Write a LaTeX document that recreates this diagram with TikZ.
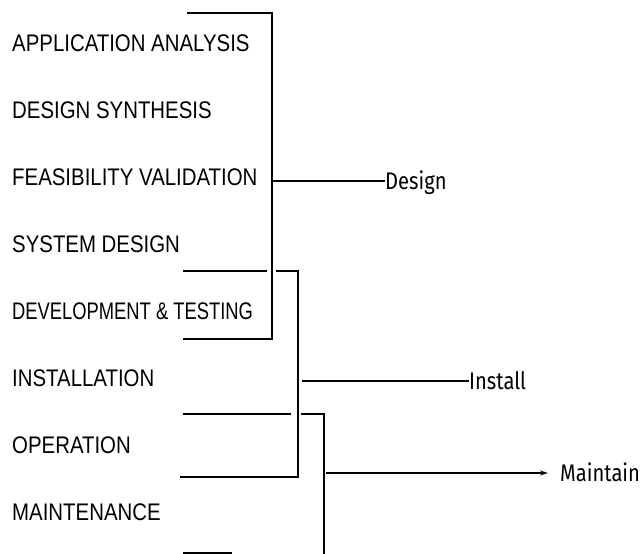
\documentclass[tikz,border=0pt]{standalone}
\usepackage{fontspec}
\newfontfamily\capfont[FakeStretch=0.85]{Liberation Sans}
\newfontfamily\tagfont[FakeStretch=0.84]{Fira Sans}
\usetikzlibrary{arrows.meta}

\begin{document}
\begin{tikzpicture}[x=1pt, y=-1pt,
    item/.style={anchor=west, inner sep=0pt, font=\capfont\fontsize{24}{28}\selectfont},
    tag/.style={anchor=base west, inner sep=0pt, font=\tagfont\fontsize{24}{28}\selectfont},
    bar/.style={line width=1.6pt},
    stem/.style={line width=1.3pt}]
    \useasboundingbox (0,0) rectangle (641,554);
    % Phase list, one row every 67px (last field squeezes the wide one)
    \foreach \name/\txt/\sq [count=\i from 0] in {app/APPLICATION ANALYSIS/1, syn/DESIGN SYNTHESIS/1,
        feas/FEASIBILITY VALIDATION/1, sys/SYSTEM DESIGN/1, dev/DEVELOPMENT \& TESTING/0.9,
        inst/INSTALLATION/1, oper/OPERATION/1, maint/MAINTENANCE/1} {
      \node[item] (\name) at (12, 43+67*\i) {\scalebox{\sq}[1]{\txt}};
    }
    % Design bracket: first five phases
    \coordinate (d0) at (187, 13);
    \coordinate (d1) at (272, 13);
    \coordinate (d2) at (272, 339);
    \coordinate (d3) at (183, 339);
    \coordinate (dm) at (273, 181);
    \draw[bar] (d0) -- (d1) -- (d2) -- (d3);
    \node[tag] (design) at (385, 189) {Design};
    \draw[stem] (dm) -- (dm -| design.west);
    % Install bracket: top line broken where it crosses the design bracket
    \coordinate (i0) at (183, 271);
    \coordinate (i1) at (267, 271);
    \coordinate (i2) at (276, 271);
    \coordinate (i3) at (298, 271);
    \coordinate (i4) at (298, 477);
    \coordinate (i5) at (180, 477);
    \coordinate (im) at (302, 381);
    \draw[bar] (i0) -- (i1);
    \draw[bar] (i2) -- (i3) -- (i4) -- (i5);
    \node[tag] (install) at (469, 389) {Install};
    \draw[stem] (im) -- (im -| install.west);
    % Maintain bracket: runs off the bottom edge
    \coordinate (m0) at (183, 414);
    \coordinate (m1) at (291, 414);
    \coordinate (m2) at (301, 414);
    \coordinate (m3) at (324, 414);
    \coordinate (m4) at (324, 556);
    \coordinate (m5) at (183, 553);
    \coordinate (m6) at (232, 553);
    \coordinate (mm) at (326, 473);
    \draw[bar] (m0) -- (m1);
    \draw[bar] (m2) -- (m3) -- (m4);
    \draw[bar] (m5) -- (m6);
    \node[tag] (maintain) at (560, 481) {Maintain};
    \draw[stem, -{Stealth[length=8pt, width=5pt]}, shorten >=12pt] (mm) -- (mm -| maintain.west);
\end{tikzpicture}
\end{document}
